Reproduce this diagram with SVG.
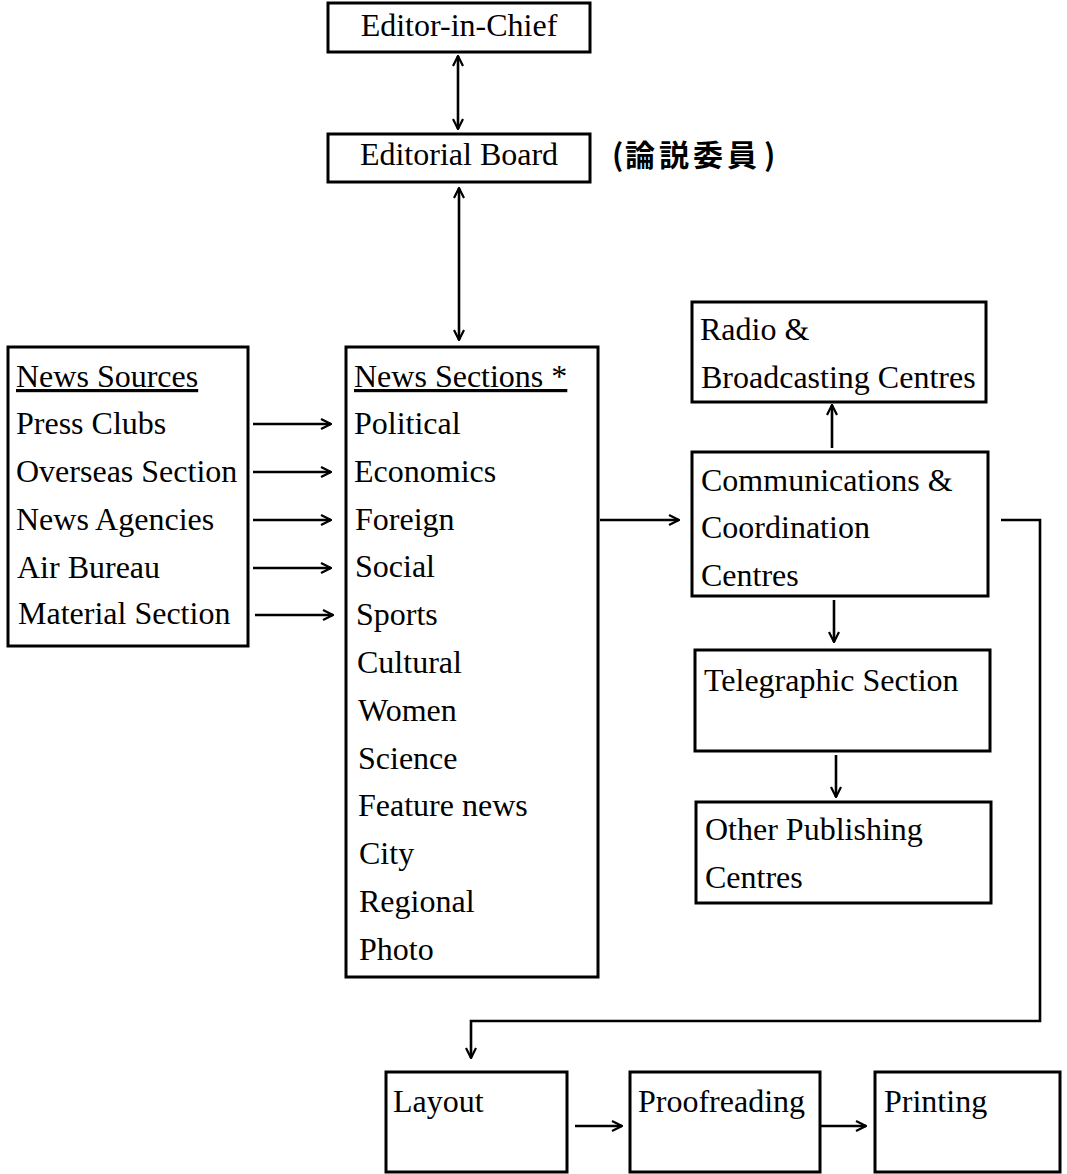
<svg xmlns="http://www.w3.org/2000/svg" width="1067" height="1174" viewBox="0 0 1067 1174">
<style>
.box{fill:#fff;stroke:#000;stroke-width:3}
.t{font-family:"Liberation Serif","Times New Roman",serif;font-size:32px;fill:#000}
.c{text-anchor:middle}
.u{text-decoration:underline}
.ln{fill:none;stroke:#000;stroke-width:2.6}
.cjk{font-family:"Noto Sans CJK JP","Noto Sans CJK SC",sans-serif;font-weight:bold;font-size:30px;fill:#000}
</style>
<defs>
<marker id="ah" viewBox="0 0 12 12" refX="11" refY="6" markerWidth="12" markerHeight="12" markerUnits="userSpaceOnUse" orient="auto-start-reverse">
<path d="M1,1 L11,6 L1,11" fill="none" stroke="#000" stroke-width="2.2"/>
</marker>
</defs>
<rect width="1067" height="1174" fill="#fff"/>
<g id="editor-in-chief"><rect class="box" x="328" y="3" width="262" height="49"/><text class="t c" x="459" y="36">Editor-in-Chief</text></g>
<g id="editorial-board"><rect class="box" x="328" y="134" width="262" height="48"/><text class="t c" x="459" y="165">Editorial Board</text></g>
<g id="editorial-board-jp"><text class="cjk" y="166"><tspan x="612">(</tspan><tspan x="625" letter-spacing="4">論説委員</tspan><tspan x="764">)</tspan></text></g>
<g id="news-sources"><rect class="box" x="8" y="347" width="240" height="299"/>
<text class="t u" x="16" y="387">News Sources</text>
<text class="t" x="16" y="434">Press Clubs</text>
<text class="t" x="16" y="482">Overseas Section</text>
<text class="t" x="16" y="530">News Agencies</text>
<text class="t" x="17" y="578">Air Bureau</text>
<text class="t" x="18" y="624">Material Section</text>
</g>
<g id="news-sections"><rect class="box" x="346" y="347" width="252" height="630"/>
<text class="t u" x="354" y="387">News Sections *</text>
<text class="t" x="354" y="434">Political</text>
<text class="t" x="354" y="482">Economics</text>
<text class="t" x="355" y="530">Foreign</text>
<text class="t" x="355" y="577">Social</text>
<text class="t" x="356" y="625">Sports</text>
<text class="t" x="357" y="673">Cultural</text>
<text class="t" x="358" y="721">Women</text>
<text class="t" x="358" y="769">Science</text>
<text class="t" x="358" y="816">Feature news</text>
<text class="t" x="359" y="864">City</text>
<text class="t" x="359" y="912">Regional</text>
<text class="t" x="359" y="960">Photo</text>
</g>
<g id="radio"><rect class="box" x="692" y="302" width="294" height="100"/>
<text class="t" x="700" y="340">Radio &amp;</text>
<text class="t" x="701" y="388">Broadcasting Centres</text></g>
<g id="communications"><rect class="box" x="692" y="452" width="296" height="144"/>
<text class="t" x="701" y="491">Communications &amp;</text>
<text class="t" x="701" y="538">Coordination</text>
<text class="t" x="701" y="586">Centres</text></g>
<g id="telegraphic"><rect class="box" x="695" y="650" width="295" height="101"/>
<text class="t" x="704" y="691">Telegraphic Section</text></g>
<g id="other-publishing"><rect class="box" x="696" y="802" width="295" height="101"/>
<text class="t" x="705" y="840">Other Publishing</text>
<text class="t" x="705" y="888">Centres</text></g>
<g id="layout"><rect class="box" x="386" y="1072" width="181" height="100"/><text class="t" x="393" y="1112">Layout</text></g>
<g id="proofreading"><rect class="box" x="630" y="1072" width="190" height="100"/><text class="t" x="638" y="1112">Proofreading</text></g>
<g id="printing"><rect class="box" x="875" y="1072" width="185" height="100"/><text class="t" x="884" y="1112">Printing</text></g>
<g id="connectors">
<line class="ln" x1="458" y1="56" x2="458" y2="129" marker-start="url(#ah)" marker-end="url(#ah)"/>
<line class="ln" x1="459" y1="188" x2="459" y2="340" marker-start="url(#ah)" marker-end="url(#ah)"/>
<line class="ln" x1="253" y1="424" x2="331" y2="424" marker-end="url(#ah)"/>
<line class="ln" x1="253" y1="472" x2="331" y2="472" marker-end="url(#ah)"/>
<line class="ln" x1="253" y1="520" x2="331" y2="520" marker-end="url(#ah)"/>
<line class="ln" x1="253" y1="568" x2="331" y2="568" marker-end="url(#ah)"/>
<line class="ln" x1="255" y1="615" x2="333" y2="615" marker-end="url(#ah)"/>
<line class="ln" x1="600" y1="520" x2="679" y2="520" marker-end="url(#ah)"/>
<line class="ln" x1="832" y1="448" x2="832" y2="405" marker-end="url(#ah)"/>
<line class="ln" x1="834" y1="600" x2="834" y2="642" marker-end="url(#ah)"/>
<line class="ln" x1="836" y1="755" x2="836" y2="797" marker-end="url(#ah)"/>
<polyline class="ln" points="1001,520 1040,520 1040,1021 471,1021 471,1058" marker-end="url(#ah)"/>
<line class="ln" x1="575" y1="1126" x2="622" y2="1126" marker-end="url(#ah)"/>
<line class="ln" x1="820" y1="1126" x2="866" y2="1126" marker-end="url(#ah)"/>
</g>
</svg>
